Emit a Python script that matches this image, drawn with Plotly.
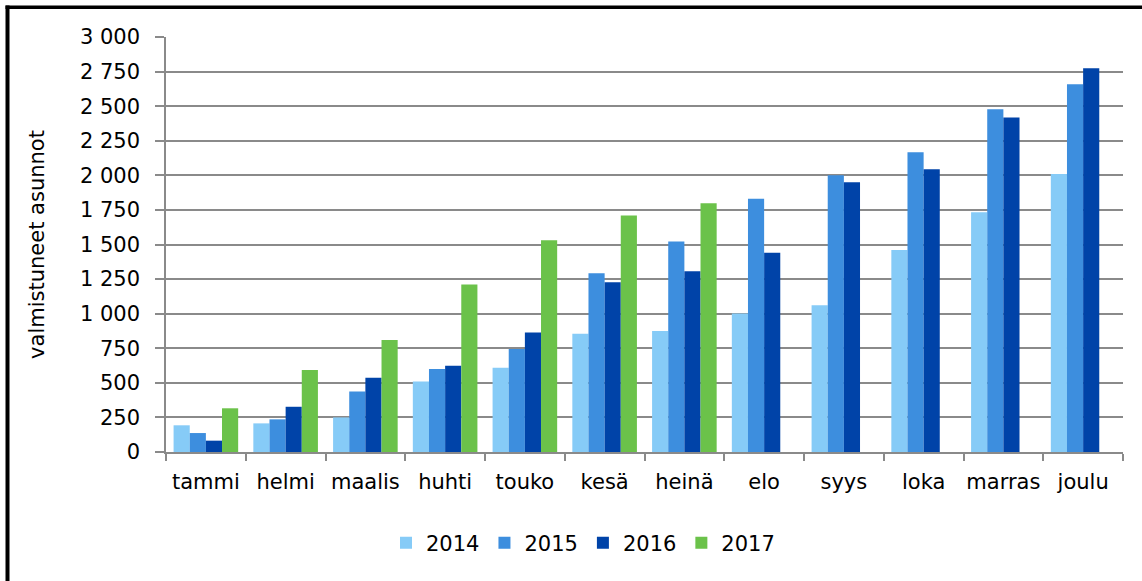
import plotly.graph_objects as go

months = ["tammi", "helmi", "maalis", "huhti", "touko", "kesä",
          "heinä", "elo", "syys", "loka", "marras", "joulu"]

v2014 = [193, 207, 250, 510, 609, 855, 874, 1002, 1060, 1461, 1734, 2010]
v2015 = [137, 236, 438, 600, 744, 1293, 1522, 1830, 2001, 2167, 2478, 2658]
v2016 = [82, 327, 537, 624, 864, 1228, 1307, 1440, 1950, 2044, 2418, 2774]
v2017 = [316, 592, 809, 1211, 1531, 1710, 1799, None, None, None, None, None]

series = [
    ("2014", v2014, "#86CBF7"),
    ("2015", v2015, "#3D8EDE"),
    ("2016", v2016, "#0043A8"),
    ("2017", v2017, "#6BC24A"),
]

fig = go.Figure()
for name, vals, col in series:
    fig.add_trace(go.Bar(x=months, y=vals, name=name,
                         marker=dict(color=col, line=dict(width=0))))

W, H = 1142, 581
ml, mr, mt, mb = 166, 19, 37, 129
pw = W - ml - mr
ph = H - mt - mb

def px_x(p):
    return (p - ml) / pw

def px_y(p):
    return (H - mb - p) / ph

FS = 21

fig.update_layout(
    width=W, height=H,
    margin=dict(l=ml, r=mr, t=mt, b=mb, pad=0, autoexpand=False),
    paper_bgcolor="white", plot_bgcolor="white",
    font=dict(family="DejaVu Sans", size=FS, color="#000000"),
    separators=", ",
    barmode="group", bargap=0.19, bargroupgap=0,
    showlegend=True,
    legend=dict(orientation="h", x=px_x(386), y=px_y(543),
                xanchor="left", yanchor="middle",
                font=dict(size=FS), bgcolor="rgba(0,0,0,0)"),
    xaxis=dict(showgrid=False, showline=True, linecolor="#8a8a8a", linewidth=1.5,
               ticks="outside", tickson="boundaries", ticklen=7,
               tickcolor="#8a8a8a", tickwidth=1.5, tickangle=0,
               automargin=False, ticklabelstandoff=10),
    yaxis=dict(range=[0, 3000], dtick=250, tickformat=",d",
               showgrid=True, gridcolor="#8a8a8a", gridwidth=1.5,
               showline=True, linecolor="#8a8a8a", linewidth=1.5,
               ticks="outside", ticklen=9, tickcolor="#8a8a8a", tickwidth=1.5,
               ticklabelstandoff=11, zeroline=False, automargin=False,
               title=dict(text="valmistuneet asunnot", standoff=30,
                          font=dict(size=FS))),
    shapes=[
        dict(type="line", xref="paper", yref="paper",
             x0=px_x(7.5), x1=px_x(7.5), y0=px_y(600), y1=px_y(5.5),
             line=dict(color="black", width=4)),
        dict(type="line", xref="paper", yref="paper",
             x0=px_x(5.5), x1=px_x(1160), y0=px_y(7.3), y1=px_y(7.3),
             line=dict(color="black", width=3.5)),
    ],
)

fig.write_html("out.html",
               config={"displayModeBar": False},
               post_script="document.body.style.margin='0px';document.body.style.overflow='hidden';")
